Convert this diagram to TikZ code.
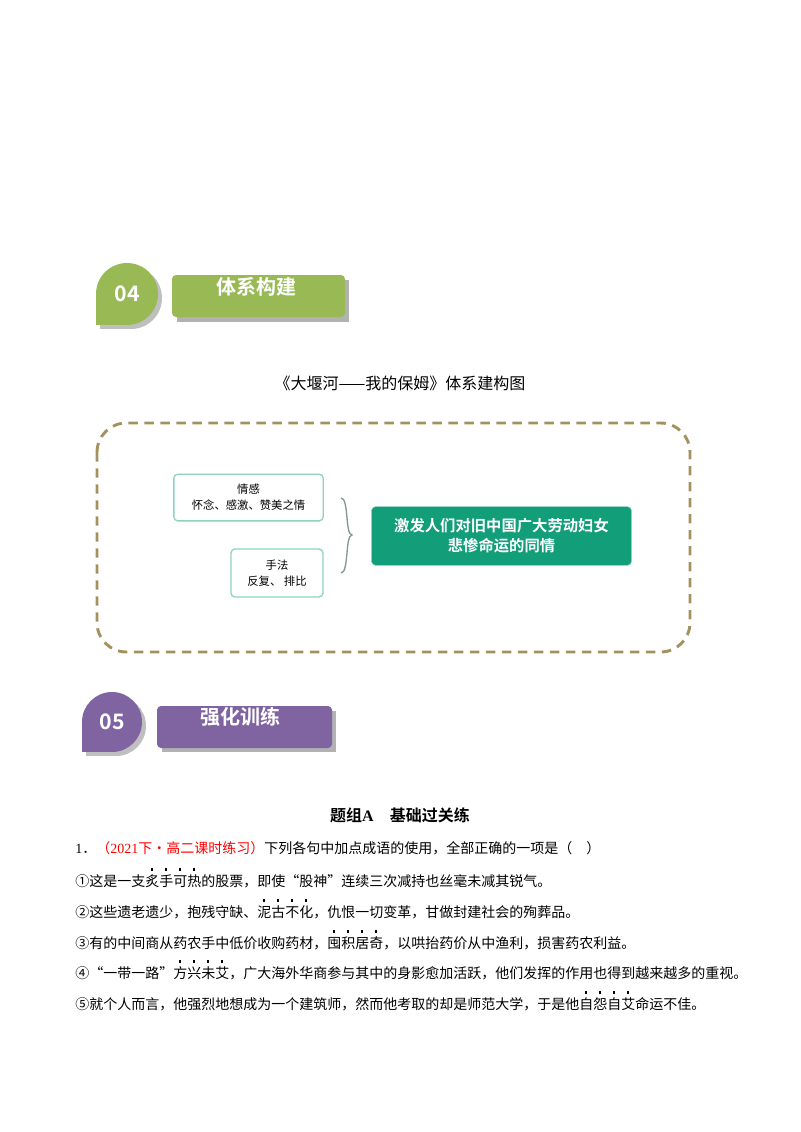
\documentclass[tikz,border=0pt]{standalone}
\usepackage{fontspec}
\setmainfont{Noto Sans CJK SC}
\newfontfamily\hei{Noto Sans CJK SC Bold}
\newfontfamily\lat{Liberation Serif}
\newcommand\ed[1]{\leavevmode\rlap{\hbox to 1em{\hss\raisebox{1.1em}{\rule{1.6pt}{1.6pt}}\hss}}#1}
\definecolor{lg}{HTML}{98B954}
\definecolor{pu}{HTML}{8064A2}
\definecolor{tg}{HTML}{129E79}
\definecolor{tl}{HTML}{8FD3BC}
\definecolor{ol}{HTML}{A3925F}
\tikzset{line/.style={font=\fontsize{10.5}{13}\selectfont, anchor=west, inner sep=0},
 sm/.style={draw=tl, line width=1pt, rounded corners=3pt, font=\fontsize{8.5}{12}\selectfont, align=center}}
\begin{document}
\begin{tikzpicture}[x=0.75pt,y=-0.75pt]
\useasboundingbox (0,0) rectangle (800,1132);
% badge 04
\fill[gray!60] (177,280) rectangle (349,322);
\fill[lg,rounded corners=3pt] (172,275) rectangle (345,317);
\node[text=white,font=\hei\fontsize{15}{15}\selectfont] (t04) at (256,287) {体系构建};
\fill[gray!50] (131,298) circle (31); \fill[gray!50] (100,298) rectangle (131,329);
\fill[lg] (127,294) circle (31); \fill[lg] (96,294) rectangle (127,325);
\node[text=white,font=\hei\fontsize{16}{16}\selectfont] (n04) at (127,294) {04};
% title
\node[font=\fontsize{12}{14}\selectfont] (title) at (400,383) {《大堰河——我的保姆》体系建构图};
\draw[ol,line width=2.2pt,dash pattern=on 7pt off 5pt,rounded corners=22pt] (97,423) rectangle (690,652);
\node[sm,minimum width=112pt,minimum height=35pt] (b1) at (248.5,497.5) {情感\\怀念、感激、赞美之情};
\node[sm,minimum width=69pt,minimum height=36pt] (b2) at (277,573) {手法\\反复、 排比};
\draw[gray!70!tl,line width=1pt] (341,498) .. controls (349,498) and (345,535) .. (352,535) .. controls (345,535) and (349,573) .. (341,573);
\node[fill=tg,draw=tl,rounded corners=3pt,minimum width=195pt,minimum height=44pt,text=white,align=center,font=\hei\fontsize{11.5}{15}\selectfont] (main) at (501.5,536) {激发人们对旧中国广大劳动妇女\\悲惨命运的同情};
% badge 05
\fill[gray!60] (162,711) rectangle (336,752);
\fill[pu,rounded corners=3pt] (157,706) rectangle (332,748);
\node[text=white,font=\hei\fontsize{15}{15}\selectfont] (t05) at (240,717) {强化训练};
\fill[gray!50] (116,726) circle (30); \fill[gray!50] (86,726) rectangle (116,756);
\fill[pu] (112,722) circle (30); \fill[pu] (82,722) rectangle (112,752);
\node[text=white,font=\hei\fontsize{16}{16}\selectfont] (n05) at (112,722) {05};
\node[font=\hei\fontsize{12}{14}\selectfont] (grp) at (400,815) {题组{\lat\bfseries A}\quad 基础过关练};
\node[line] (l0) at (75,848) {{\lat 1}．\textcolor{red}{（{\lat 2021}下·高二课时练习）}下列各句中加点成语的使用，全部正确的一项是（\quad ）};
\node[line] (l1) at (75,878) {①这是一支\ed{炙}\ed{手}\ed{可}\ed{热}的股票，即使“股神”连续三次减持也丝毫未减其锐气。};
\node[line] (l2) at (75,909) {②这些遗老遗少，抱残守缺、\ed{泥}\ed{古}\ed{不}\ed{化}，仇恨一切变革，甘做封建社会的殉葬品。};
\node[line] (l3) at (75,940) {③有的中间商从药农手中低价收购药材，\ed{囤}\ed{积}\ed{居}\ed{奇}，以哄抬药价从中渔利，损害药农利益。};
\node[line] (l4) at (75,970) {④“一带一路”\ed{方}\ed{兴}\ed{未}\ed{艾}，广大海外华商参与其中的身影愈加活跃，他们发挥的作用也得到越来越多的重视。};
\node[line] (l5) at (75,1001) {⑤就个人而言，他强烈地想成为一个建筑师，然而他考取的却是师范大学，于是他\ed{自}\ed{怨}\ed{自}\ed{艾}命运不佳。};
\end{tikzpicture}
\end{document}
